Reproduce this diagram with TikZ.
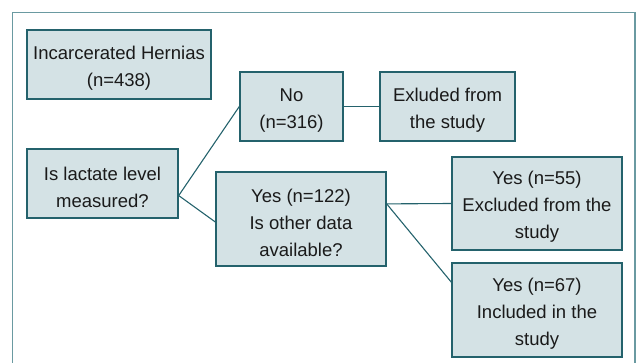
\documentclass[tikz,border=0pt]{standalone}
\usepackage{fontspec}
\setmainfont{Liberation Sans}
\definecolor{boxfill}{HTML}{D4E2E5}
\definecolor{boxdraw}{HTML}{24626C}
\definecolor{framecol}{HTML}{6A9AA1}
\definecolor{txt}{HTML}{1A1A1A}
\newcommand{\topstrut}{\rule{0pt}{20.5pt}}
\tikzset{
  flowbox/.style={draw=boxdraw, fill=boxfill, line width=1.4pt, inner sep=0pt,
    align=center, text=txt, font=\fontsize{18.5}{27}\selectfont},
  link/.style={draw=boxdraw, line width=1.1pt}
}
\begin{document}
\begin{tikzpicture}[x=1pt,y=-1pt]
\useasboundingbox (0,0) rectangle (640,363);
\draw[framecol, line width=1.3pt] (12.5,366) -- (12.5,12.5) -- (635,12.5) -- (635,366);
\node[flowbox, minimum width=184pt, minimum height=69pt] (inc) at (119,64.5) {\topstrut Incarcerated Hernias\\(n=438)};
\node[flowbox, minimum width=103pt, minimum height=69pt] (no) at (291.5,106.5) {\topstrut No\\(n=316)};
\node[flowbox, minimum width=135pt, minimum height=69pt] (exl) at (447.5,106.5) {\topstrut Exluded from\\the study};
\node[flowbox, minimum width=151pt, minimum height=69pt] (lac) at (102.5,183.5) {\topstrut Is lactate level\\measured?};
\node[flowbox, minimum width=170pt, minimum height=94pt] (y122) at (301,219) {\topstrut Yes (n=122)\\Is other data\\available?};
\node[flowbox, minimum width=170pt, minimum height=93pt] (y55) at (537,203.5) {\topstrut Yes (n=55)\\Excluded from the\\study};
\node[flowbox, minimum width=170pt, minimum height=94pt] (y67) at (537,310) {\topstrut Yes (n=67)\\Included in the\\study};
\draw[link] (lac.-9.4) -- (no.west);
\draw[link] (lac.-9.4) -- (y122.182.7);
\draw[link] (no.east) -- (exl.west);
\draw[link] (y122.10.7) -- (y55.west);
\draw[link] (y122.10.7) -- (y67.162.4);
\end{tikzpicture}
\end{document}
